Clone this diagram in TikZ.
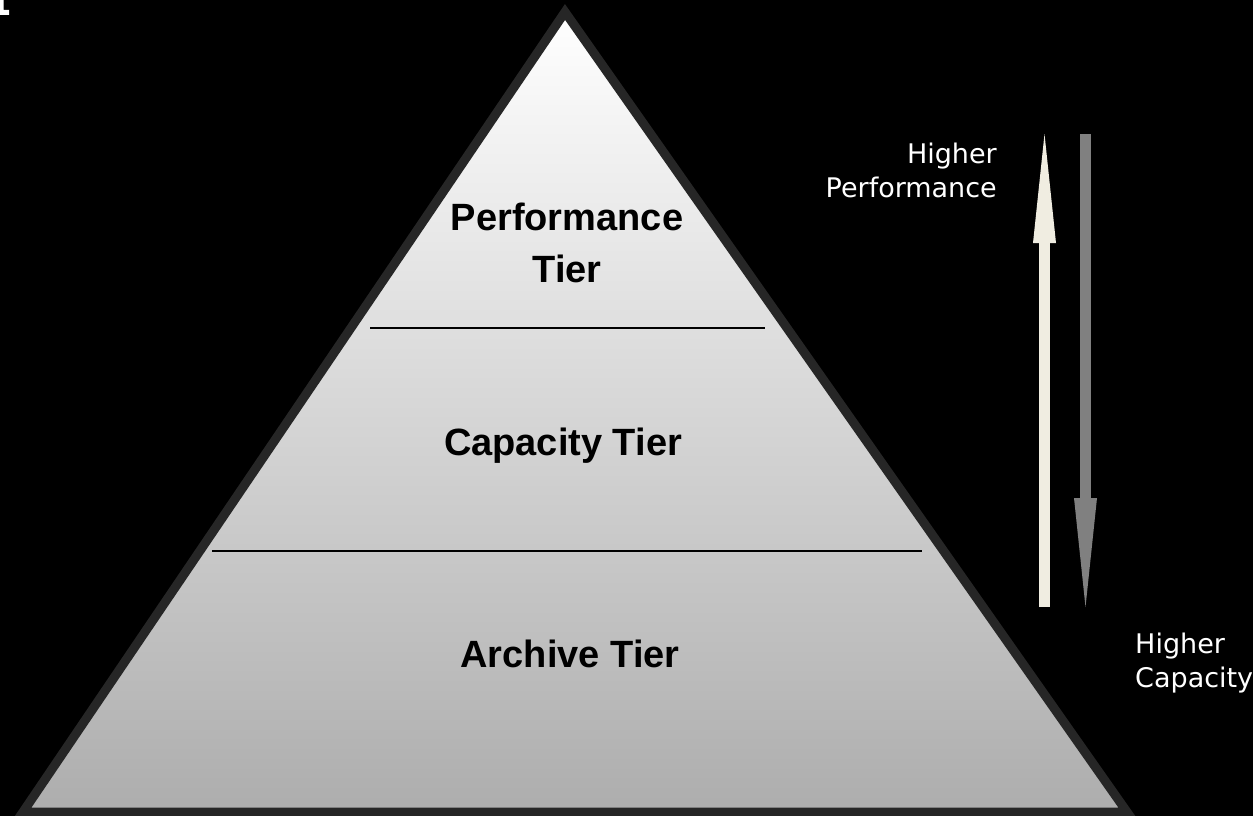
\documentclass[tikz,border=0pt]{standalone}
\usepackage{fontspec}
\setmainfont{Liberation Sans}
\newfontfamily\sidefont{DejaVu Sans}
\usetikzlibrary{arrows.meta}
\definecolor{pyramid-edge}{HTML}{262626}
\definecolor{pyramid-base}{HTML}{ADADAD}
\definecolor{arrow-cream}{HTML}{F0EDE1}
\definecolor{arrow-grey}{HTML}{808080}
\tikzset{
    pyramid/.style = {draw=pyramid-edge, line width=9pt, line join=miter, top color=white, bottom color=pyramid-base},
    tier-line/.style = {draw=black, line width=2pt},
    tier-label/.style = {font=\bfseries\fontsize{38}{52}\selectfont, text=black, align=center, inner sep=0pt, anchor=base},
    side-label/.style = {font=\sidefont\fontsize{27}{34}\selectfont, text=white, inner sep=0pt},
    tier-arrow/.style = {line width=11pt, -{Triangle[width=23pt,length=109pt,line width=0pt]}},
}

\begin{document}
\begin{tikzpicture}[x=1pt,y=-1pt]
\useasboundingbox (0,0) rectangle (1253,816);
\fill[black] (0,0) rectangle (1253,816);
\fill[white] (0,0) -- (3.5,0) -- (3.5,10) -- (9,10) -- (9,15) -- (0,15) -- cycle;

% the pyramid and its tiers
\draw[pyramid] (565,12) -- (23,812) -- (1127,812) -- cycle;
\draw[tier-line] (370,328) -- (765,328);
\draw[tier-line] (212,551) -- (922,551);

\node[tier-label] (performance) at (567,282) {Performance\\Tier};
\node[tier-label] (capacity) at (563,455) {Capacity Tier};
\node[tier-label] (archive) at (570,667) {Archive Tier};

% arrows on the right
\coordinate (up-start) at (1044.5,607);
\coordinate (up-end) at (1044.5,134);
\coordinate (down-start) at (1085.5,134);
\coordinate (down-end) at (1085.5,607);
\draw[tier-arrow, arrow-cream] (up-start) -- (up-end);
\draw[tier-arrow, arrow-grey] (down-start) -- (down-end);

\node[side-label, align=right, anchor=base east] (higher-perf) at (997,197) {Higher\\Performance};
\node[side-label, align=left, anchor=base west] (higher-cap) at (1135,687) {Higher\\Capacity};
\end{tikzpicture}
\end{document}
